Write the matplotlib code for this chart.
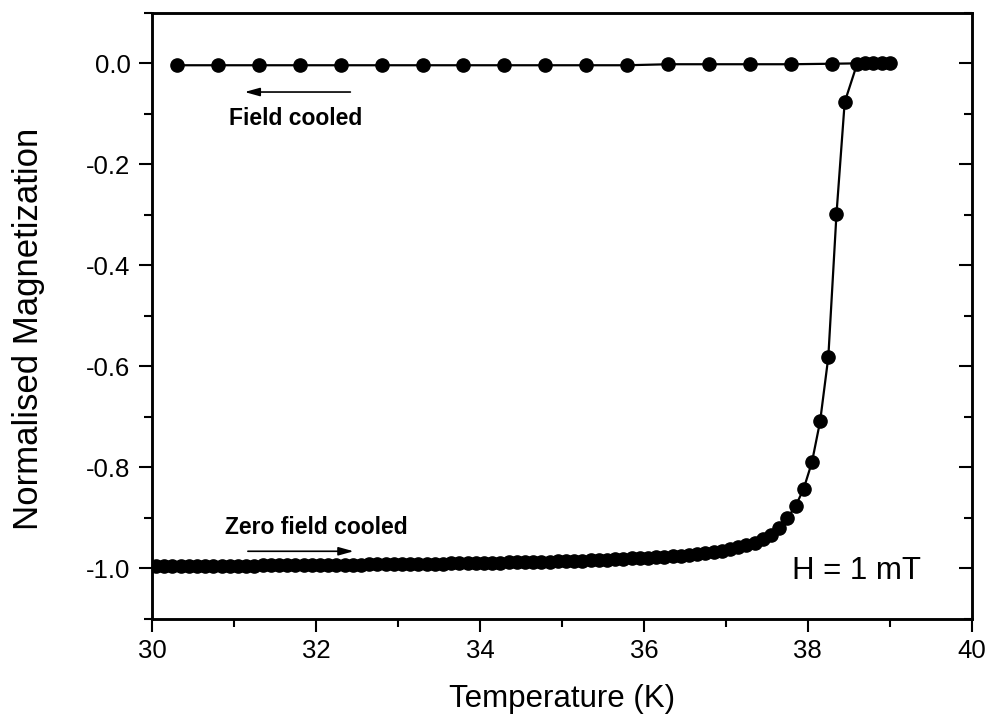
import numpy as np
import matplotlib.pyplot as plt
from matplotlib.ticker import MultipleLocator, FormatStrFormatter

plt.rcParams['axes.unicode_minus'] = False
plt.rcParams['font.family'] = ['Liberation Sans', 'DejaVu Sans']

# Zero field cooled (warming) data
zfc_T = [30.05, 30.15, 30.25, 30.35, 30.45, 30.55, 30.65, 30.75, 30.85, 30.95,
         31.05, 31.15, 31.25, 31.35, 31.45, 31.55, 31.65, 31.75, 31.85, 31.95,
         32.05, 32.15, 32.25, 32.35, 32.45, 32.55, 32.65, 32.75, 32.85, 32.95,
         33.05, 33.15, 33.25, 33.35, 33.45, 33.55, 33.65, 33.75, 33.85, 33.95,
         34.05, 34.15, 34.25, 34.35, 34.45, 34.55, 34.65, 34.75, 34.85, 34.95,
         35.05, 35.15, 35.25, 35.35, 35.45, 35.55, 35.65, 35.75, 35.85, 35.95,
         36.05, 36.15, 36.25, 36.35, 36.45, 36.55, 36.65, 36.75, 36.85, 36.95,
         37.05, 37.15, 37.25, 37.35, 37.45, 37.55, 37.65, 37.75, 37.85, 37.95,
         38.05, 38.15, 38.25, 38.35, 38.45, 38.60]
zfc_M = [-0.996, -0.996, -0.996, -0.996, -0.996, -0.996, -0.995, -0.995, -0.995, -0.995,
         -0.995, -0.995, -0.995, -0.994, -0.994, -0.994, -0.994, -0.994, -0.994, -0.994,
         -0.993, -0.993, -0.993, -0.993, -0.993, -0.993, -0.992, -0.992, -0.992, -0.992,
         -0.992, -0.991, -0.991, -0.991, -0.991, -0.991, -0.990, -0.990, -0.990, -0.990,
         -0.989, -0.989, -0.989, -0.988, -0.988, -0.988, -0.987, -0.987, -0.987, -0.986,
         -0.986, -0.985, -0.985, -0.984, -0.984, -0.983, -0.982, -0.981, -0.980, -0.980,
         -0.979, -0.978, -0.977, -0.976, -0.975, -0.973, -0.972, -0.970, -0.968, -0.965,
         -0.962, -0.958, -0.954, -0.949, -0.942, -0.933, -0.919, -0.900, -0.877, -0.842,
         -0.790, -0.709, -0.582, -0.298, -0.077, -0.002]

# Field cooled (cooling) data
fc_T = [39.0, 38.9, 38.8, 38.7, 38.3, 37.8, 37.3, 36.8, 36.3, 35.8, 35.3, 34.8,
        34.3, 33.8, 33.3, 32.8, 32.3, 31.8, 31.3, 30.8, 30.3]
fc_M = [0.0, 0.0, 0.0, 0.0, -0.001, -0.002, -0.002, -0.002, -0.002, -0.004, -0.004, -0.004,
        -0.004, -0.004, -0.004, -0.004, -0.004, -0.004, -0.004, -0.004, -0.004]

fig = plt.figure(figsize=(9.92, 7.22), dpi=100)
ax = fig.add_axes([0.1532, 0.1427, 0.9796 - 0.1532, 0.9824 - 0.1427])

ax.plot(zfc_T, zfc_M, '-o', color='black', lw=1.6, ms=9.5)
ax.plot(fc_T, fc_M, '-o', color='black', lw=1.6, ms=9.5)

ax.set_xlim(30, 40)
ax.set_ylim(-1.1, 0.1)
ax.xaxis.set_major_locator(MultipleLocator(2))
ax.xaxis.set_minor_locator(MultipleLocator(1))
ax.yaxis.set_major_locator(MultipleLocator(0.2))
ax.yaxis.set_minor_locator(MultipleLocator(0.1))
ax.yaxis.set_major_formatter(FormatStrFormatter('%.1f'))

for s in ax.spines.values():
    s.set_linewidth(1.8)

ax.tick_params(axis='x', which='both', direction='out', top=False, width=1.5)
ax.tick_params(axis='x', which='major', length=9.5, pad=5, labelsize=18.5)
ax.tick_params(axis='x', which='minor', length=5.5)
ax.tick_params(axis='y', which='both', direction='out', width=1.5)
ax.tick_params(axis='y', which='major', length=9.5, pad=6, labelsize=18.5)
ax.tick_params(axis='y', which='minor', length=5.5)

# inward ticks on the right side
ax2 = ax.twinx()
ax2.set_ylim(ax.get_ylim())
ax2.yaxis.set_major_locator(MultipleLocator(0.2))
ax2.yaxis.set_minor_locator(MultipleLocator(0.1))
ax2.tick_params(axis='y', which='both', direction='in', width=1.5, labelright=False)
ax2.tick_params(axis='y', which='major', length=9.5)
ax2.tick_params(axis='y', which='minor', length=5.5)
for s in ax2.spines.values():
    s.set_linewidth(1.8)

ax.set_xlabel('Temperature (K)', fontsize=22.5, labelpad=15)
ax.set_ylabel('Normalised Magnetization', fontsize=25)
ax.yaxis.set_label_coords(-0.131, 0.478)

ax.annotate('', xy=(31.13, -0.057), xytext=(32.42, -0.057),
            arrowprops=dict(arrowstyle='-|>,head_length=0.9,head_width=0.25',
                            color='black', lw=1.2, shrinkA=0, shrinkB=0))
ax.text(31.75, -0.109, 'Field cooled', fontsize=16.5, fontweight='bold',
        ha='center', va='center')

ax.annotate('', xy=(32.46, -0.966), xytext=(31.17, -0.966),
            arrowprops=dict(arrowstyle='-|>,head_length=0.9,head_width=0.25',
                            color='black', lw=1.2, shrinkA=0, shrinkB=0))
ax.text(32.01, -0.919, 'Zero field cooled', fontsize=16.5, fontweight='bold',
        ha='center', va='center')

ax.text(38.59, -1.006, 'H = 1 mT', fontsize=22.5, ha='center', va='center')

fig.savefig('out.png', dpi=100)
